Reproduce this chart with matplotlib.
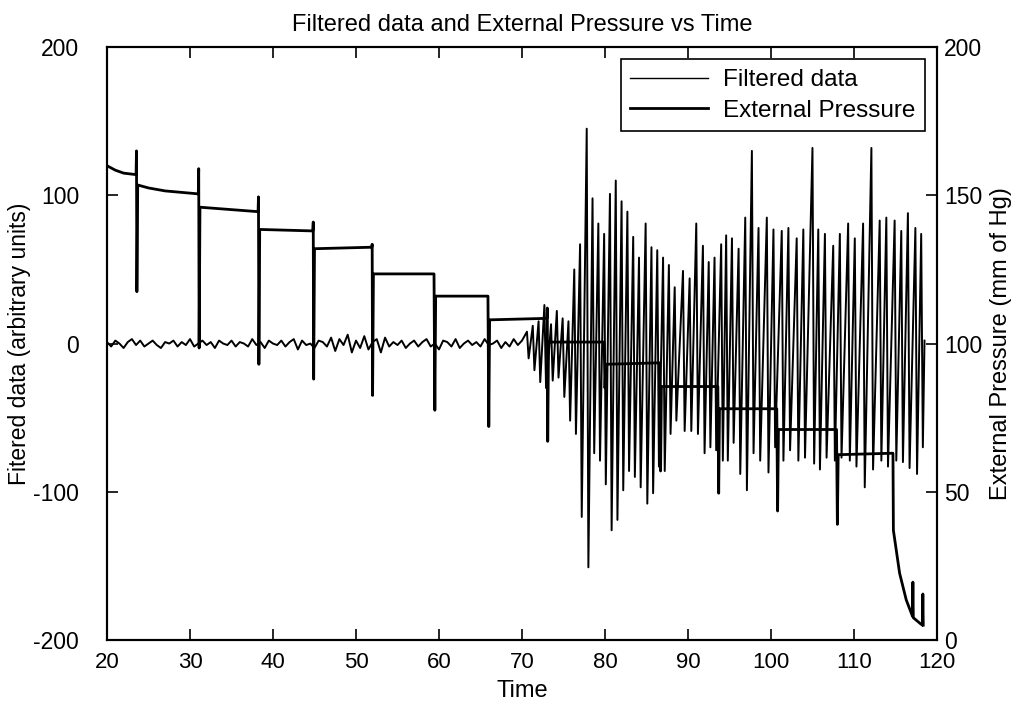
import numpy as np
import matplotlib
matplotlib.use('Agg')
import matplotlib.pyplot as plt

plt.rcParams['font.family'] = ['Liberation Sans', 'DejaVu Sans']
plt.rcParams['axes.unicode_minus'] = False

### data ###
# baseline noise of the filtered signal, sampled every 0.5 s from t=20 to t=70
noise_start, noise_step = 20.0, 0.5
noise_vals = [1, -2, 2, 0, -3, 1, 3, -1, 2, -2,
              0, 2, -1, -3, 1, 0, 2, -2, 1, -1,
              3, -2, 0, 2, -1, 1, -3, 2, 0, -1,
              2, -2, 1, 0, -2, 3, -1, 1, -3, 2,
              0, -1, 2, -2, 1, 3, -4, 2, -1, 0,
              -3, 2, 1, -2, 4, -5, 3, -1, 6, -6,
              2, -3, 5, -4, 1, 3, -6, 4, -2, 1,
              -1, 2, -3, 0, 2, -2, 1, 3, -2, 0,
              -4, 2, 1, -2, 3, -3, 0, 2, -1, 1,
              -2, 3, -1, 0, 2, -3, 1, -2, 3, -1,
              2]

# pulse oscillations: time of each peak, peak value and following trough value
osc_t = [70.6, 71.3, 72.0, 72.7, 73.5, 74.2, 74.9, 75.6, 76.3, 77.0,
         77.8, 78.5, 79.2, 79.9, 80.6, 81.3, 82.0, 82.7, 83.4, 84.1,
         84.9, 85.6, 86.3, 87.0, 87.7, 88.4, 89.4, 90.2, 91.0, 91.8,
         92.5, 93.2, 94.0, 94.6, 95.3, 96.1, 96.9, 97.7, 98.5, 99.5,
         100.3, 101.3, 102.1, 103.1, 103.9, 105.0, 105.7, 106.5, 107.5, 108.3,
         109.3, 110.1, 111.1, 112.1, 113.1, 113.9, 114.9, 115.7, 116.5, 117.4,
         118.1]
osc_hi = [8, 12, 15, 26, 13, 22, 17, 15, 50, 67,
          145, 98, 81, 74, 101, 110, 96, 89, 72, 58,
          81, 65, 63, 58, 53, 38, 49, 44, 81, 66,
          55, 58, 67, 73, 71, 64, 85, 130, 78, 85,
          77, 76, 78, 71, 77, 132, 77, 74, 66, 74,
          81, 71, 81, 132, 83, 85, 83, 76, 88, 78,
          74]
osc_lo = [-10, -18, -26, -30, -25, -23, -36, -52, -61, -117,
          -151, -74, -79, -95, -126, -119, -99, -86, -90, -97,
          -108, -101, -83, -86, -61, -52, -59, -59, -61, -74,
          -70, -72, -79, -79, -67, -88, -99, -74, -79, -87,
          -70, -79, -72, -79, -77, -81, -85, -77, -79, -77,
          -79, -83, -97, -85, -79, -83, -79, -80, -84, -88,
          -70]
osc_end = (118.5, 2)

# external pressure (mm of Hg): staircase deflation with spikes at every step
press_t = [20.0, 21.0, 22.0, 23.5, 23.55, 23.6, 23.7,
           25.0, 27.0, 29.0, 31.0, 31.05, 31.1, 31.2,
           38.2, 38.25, 38.3, 38.4,
           44.8, 44.85, 44.9, 45.0,
           51.9, 51.95, 52.0, 52.1,
           59.4, 59.5, 59.6,
           65.9, 66.0, 66.1,
           73.0, 73.05, 73.1, 73.2,
           79.9, 80.0, 80.1,
           86.6, 86.7, 86.8,
           93.6, 93.7, 93.8,
           100.7, 100.8, 100.9,
           107.9, 108.0, 108.1,
           114.7, 114.75, 115.5, 116.3, 117.05, 117.1, 117.15, 118.0, 118.25, 118.3, 118.35]
press_v = [160, 158.5, 157.5, 157, 165, 117.5, 153.5,
           152.5, 151.5, 151, 150.5, 159, 98.5, 146,
           144.5, 149.5, 93, 138.5,
           138, 141, 88, 132,
           132.5, 133.5, 82.5, 123.5,
           123.5, 77.5, 116,
           116, 72, 108,
           108.5, 112, 67, 100.5,
           100.5, 85, 93,
           93.5, 57, 85.5,
           85.5, 49.5, 78,
           78, 43.5, 71,
           71, 39, 62.5,
           63, 37, 22.5, 13.5, 8, 19.5, 7.5, 5.5, 5, 15.5, 5]

# build the filtered trace: noise samples then peak/trough pairs
filt_t = [noise_start + i * noise_step for i in range(len(noise_vals))]
filt_v = list(noise_vals)
for t, hi, lo in zip(osc_t, osc_hi, osc_lo):
    filt_t += [t, t + 0.2]
    filt_v += [hi, lo]
filt_t.append(osc_end[0])
filt_v.append(osc_end[1])

fig = plt.figure(figsize=(10.24, 7.04), dpi=100)
ax = fig.add_axes([0.1045, 0.091, 0.8105, 0.842])
ax2 = ax.twinx()

l1, = ax.plot(filt_t, filt_v, color='black', lw=1.4)
l2, = ax2.plot(press_t, press_v, color='black', lw=2.0)

ax.set_xlim(20, 120)
ax.set_ylim(-200, 200)
ax2.set_ylim(0, 200)
ax.set_xticks(np.arange(20, 121, 10))
ax.set_yticks([-200, -100, 0, 100, 200])
ax2.set_yticks([0, 50, 100, 150, 200])

ax.tick_params(axis='x', direction='in', length=8, width=1.2, labelsize=16, top=True, pad=9)
ax.tick_params(axis='y', direction='in', length=8, width=1.2, labelsize=16.5, pad=20)
ax2.tick_params(direction='in', length=8, width=1.2, labelsize=16.5, pad=5)
for a in (ax, ax2):
    for s in a.spines.values():
        s.set_linewidth(1.5)

ax.set_title('Filtered data and External Pressure vs Time', fontsize=17, pad=12)
ax.set_xlabel('Time', fontsize=17)
ax.xaxis.set_label_coords(0.5, -0.068)
ax.set_ylabel('Fitered data (arbitrary units)', fontsize=16.5)
ax.yaxis.set_label_coords(-0.091, 0.5)
ax2.set_ylabel('External Pressure (mm of Hg)', fontsize=17)
ax2.yaxis.set_label_coords(1.064, 0.5)

leg = ax.legend([l1, l2], ['Filtered data', 'External Pressure'], loc='upper right',
                frameon=True, fancybox=False, edgecolor='black', borderaxespad=0.5,
                handlelength=3.2, handletextpad=0.6, borderpad=0.4, labelspacing=0.35,
                prop={'family': ['Liberation Sans', 'DejaVu Sans'], 'size': 17.5})
leg.get_frame().set_linewidth(1.2)
leg.get_frame().set_alpha(1)
leg.get_lines()[0].set_linewidth(1.0)

fig.savefig('out.png', dpi=100)
